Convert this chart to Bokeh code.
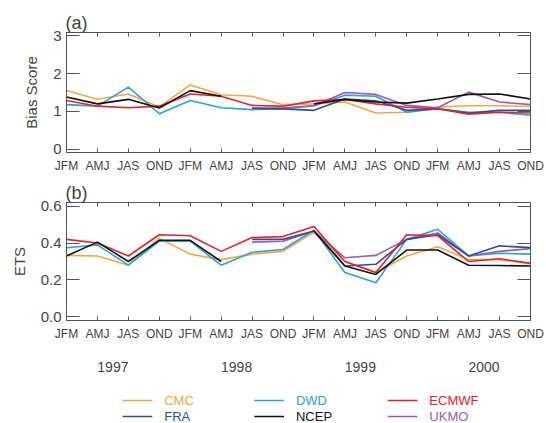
import math
from bokeh.plotting import figure
from bokeh.models import Range1d, FixedTicker, LinearAxis, ColumnDataSource
from bokeh.layouts import column
from bokeh.embed import file_html
from bokeh.resources import INLINE
from bokeh.core.properties import value

NaN = float("nan")

# ---------------- data ----------------
quarters = ["JFM", "AMJ", "JAS", "OND"] * 4
years = ["1997", "1998", "1999", "2000"]
models = ["CMC", "DWD", "ECMWF", "FRA", "NCEP", "UKMO"]
model_colors = ["#F6A73C", "#2AA2DB", "#E6202A", "#2C4F98", "#111111", "#9A5CB4"]

bias_cmc   = [1.55, 1.32, 1.46, 1.12, 1.70, 1.44, 1.40, 1.18, 1.20, 1.25, 0.96, 0.98, 1.12, 1.15, 1.15, 1.13]
bias_dwd   = [1.18, 1.14, 1.64, 0.94, 1.29, 1.10, 1.05, 1.07, 1.15, 1.43, 1.40, 0.98, 1.07, 0.98, 0.98, 0.90]
bias_ecmwf = [1.29, 1.14, 1.10, 1.14, 1.46, 1.40, 1.16, 1.14, 1.28, 1.32, 1.20, 1.11, 1.07, 0.93, 0.98, 0.96]
bias_fra   = [NaN, NaN, NaN, NaN, NaN, NaN, 1.09, 1.07, 1.03, 1.33, 1.28, 1.03, 1.07, 0.96, 1.03, 1.03]
bias_ncep  = [1.38, 1.20, 1.32, 1.09, 1.55, 1.40, NaN, NaN, 1.20, 1.32, 1.25, 1.22, 1.33, 1.45, 1.46, 1.33]
bias_ukmo  = [NaN, NaN, NaN, NaN, NaN, NaN, 1.07, 1.10, 1.15, 1.50, 1.45, 1.16, 1.10, 1.51, 1.25, 1.18]

ets_cmc   = [0.333, 0.33, 0.28, 0.425, 0.34, 0.31, 0.34, 0.355, 0.46, 0.30, 0.24, 0.33, 0.38, 0.31, 0.31, 0.29]
ets_dwd   = [0.375, 0.39, 0.28, 0.41, 0.41, 0.28, 0.35, 0.365, 0.47, 0.24, 0.185, 0.42, 0.475, 0.33, 0.345, 0.34]
ets_ecmwf = [0.42, 0.40, 0.33, 0.445, 0.44, 0.355, 0.43, 0.435, 0.49, 0.30, 0.24, 0.445, 0.44, 0.30, 0.315, 0.29]
ets_fra   = [NaN, NaN, NaN, NaN, NaN, NaN, 0.42, 0.42, 0.465, 0.276, 0.285, 0.42, 0.445, 0.33, 0.385, 0.375]
ets_ncep  = [0.33, 0.405, 0.30, 0.415, 0.415, 0.30, NaN, NaN, 0.465, 0.276, 0.23, 0.362, 0.362, 0.28, 0.278, 0.276]
ets_ukmo  = [NaN, NaN, NaN, NaN, NaN, NaN, 0.405, 0.41, 0.465, 0.32, 0.333, 0.42, 0.455, 0.33, 0.355, 0.37]

bias = {"CMC": bias_cmc, "DWD": bias_dwd, "ECMWF": bias_ecmwf,
        "FRA": bias_fra, "NCEP": bias_ncep, "UKMO": bias_ukmo}
ets = {"CMC": ets_cmc, "DWD": ets_dwd, "ECMWF": ets_ecmwf,
       "FRA": ets_fra, "NCEP": ets_ncep, "UKMO": ets_ukmo}

bias_ticks = [0, 1, 2, 3]
bias_labels = ["0", "1", "2", "3"]
ets_ticks = [0.0, 0.2, 0.4, 0.6]
ets_labels = ["0.0", "0.2", "0.4", "0.6"]

# ---------------- styling ----------------
FONT = "Liberation Sans"
TXT = "#444444"
FRAME = "#555555"
draw_order = ["CMC", "DWD", "UKMO", "FRA", "ECMWF", "NCEP"]
xidx = list(range(len(quarters)))


def make_panel(height, top, bottom, yr, yticks, ylabels, ylab, data, tag):
    p = figure(width=546, height=height, output_backend="svg", toolbar_location=None,
               x_range=Range1d(0, len(quarters) - 1), y_range=Range1d(*yr),
               min_border_left=66, min_border_right=16,
               min_border_top=top, min_border_bottom=bottom,
               x_axis_type=None, y_axis_type=None, title=tag)
    p.title.align = "left"
    p.title.text_font = FONT
    p.title.text_font_size = "18px"
    p.title.text_font_style = "normal"
    p.title.text_color = TXT
    p.title.standoff = 0
    p.title.offset = -1
    p.grid.visible = False
    p.outline_line_color = FRAME
    p.outline_line_width = 1
    p.background_fill_color = "white"
    p.border_fill_color = "white"

    qt = FixedTicker(ticks=xidx)
    yt = FixedTicker(ticks=yticks)

    xb = LinearAxis(ticker=qt, major_label_overrides={i: q for i, q in enumerate(quarters)})
    xt = LinearAxis(ticker=qt, major_label_overrides={i: "" for i in xidx})
    yl = LinearAxis(ticker=yt, major_label_overrides={t: l for t, l in zip(yticks, ylabels)},
                    axis_label=ylab)
    yrr = LinearAxis(ticker=yt, major_label_overrides={t: "" for t in yticks})
    for ax in (xb, xt, yl, yrr):
        ax.axis_line_color = FRAME
        ax.major_tick_line_color = FRAME
        ax.minor_tick_line_color = None
        ax.major_tick_out = 0
        ax.major_label_text_font = FONT
        ax.major_label_text_color = TXT
    for ax in (xb, xt):
        ax.major_tick_in = 4
    for ax in (yl, yrr):
        ax.major_tick_in = 13
    xb.major_label_text_font_size = "12px"
    xb.major_label_standoff = 6
    xt.major_label_standoff = 0
    xt.major_label_text_font_size = "1px"
    yrr.major_label_standoff = 0
    yrr.major_label_text_font_size = "1px"
    yl.major_label_text_font_size = "15px"
    yl.major_label_standoff = 5
    yl.axis_label_text_font = FONT
    yl.axis_label_text_font_size = "15px"
    yl.axis_label_text_font_style = "normal"
    yl.axis_label_text_color = TXT
    yl.axis_label_standoff = 10
    p.add_layout(xb, "below")
    p.add_layout(xt, "above")
    p.add_layout(yl, "left")
    p.add_layout(yrr, "right")

    cmap = dict(zip(models, model_colors))
    for m in draw_order:
        src = ColumnDataSource(dict(x=xidx, y=data[m]))
        p.line("x", "y", source=src, line_color=cmap[m], line_width=1.6)
    return p


pa = make_panel(180, 32, 28, (-0.08, 3.08), bias_ticks, bias_labels, "Bias Score", bias, "(a)")
pb = make_panel(194, 22, 52, (-0.02, 0.62), ets_ticks, ets_labels, "ETS", ets, "(b)")

# year axis below panel (b)
year_ax = LinearAxis(ticker=FixedTicker(ticks=[4 * k + 1.5 for k in range(len(years))]),
                     major_label_overrides={4 * k + 1.5: y for k, y in enumerate(years)})
year_ax.axis_line_color = None
year_ax.major_tick_line_color = None
year_ax.minor_tick_line_color = None
year_ax.major_label_text_font = FONT
year_ax.major_label_text_font_size = "14px"
year_ax.major_label_text_color = TXT
year_ax.major_label_standoff = 12
pb.add_layout(year_ax, "below")

# ---------------- legend ----------------
pc = figure(width=546, height=49, output_backend="svg", toolbar_location=None,
            x_range=Range1d(0, 546), y_range=Range1d(49, 0),
            min_border_left=0, min_border_right=0, min_border_top=0, min_border_bottom=0,
            x_axis_type=None, y_axis_type=None)
pc.grid.visible = False
pc.outline_line_color = None
col_x = [66, 221, 378]
row_y = [26, 42]
lx0, lx1, ltx = [], [], []
ly = []
for k, m in enumerate(models):
    cx = col_x[k % 3]
    ry = row_y[k // 3]
    lx0.append(cx)
    lx1.append(cx + 35)
    ltx.append(cx + 49)
    ly.append(ry)
leg = ColumnDataSource(dict(x0=lx0, x1=lx1, tx=ltx, y=ly, name=models, color=model_colors))
pc.segment(x0="x0", y0="y", x1="x1", y1="y", color="color", line_width=1.6, source=leg)
pc.text(x="tx", y="y", text="name", text_color="color", text_font=value(FONT),
        text_font_size="13px", text_baseline="middle", text_align="left", source=leg)

layout = column(pa, pb, pc, spacing=0)
open("out.html", "w").write(file_html(layout, INLINE))
